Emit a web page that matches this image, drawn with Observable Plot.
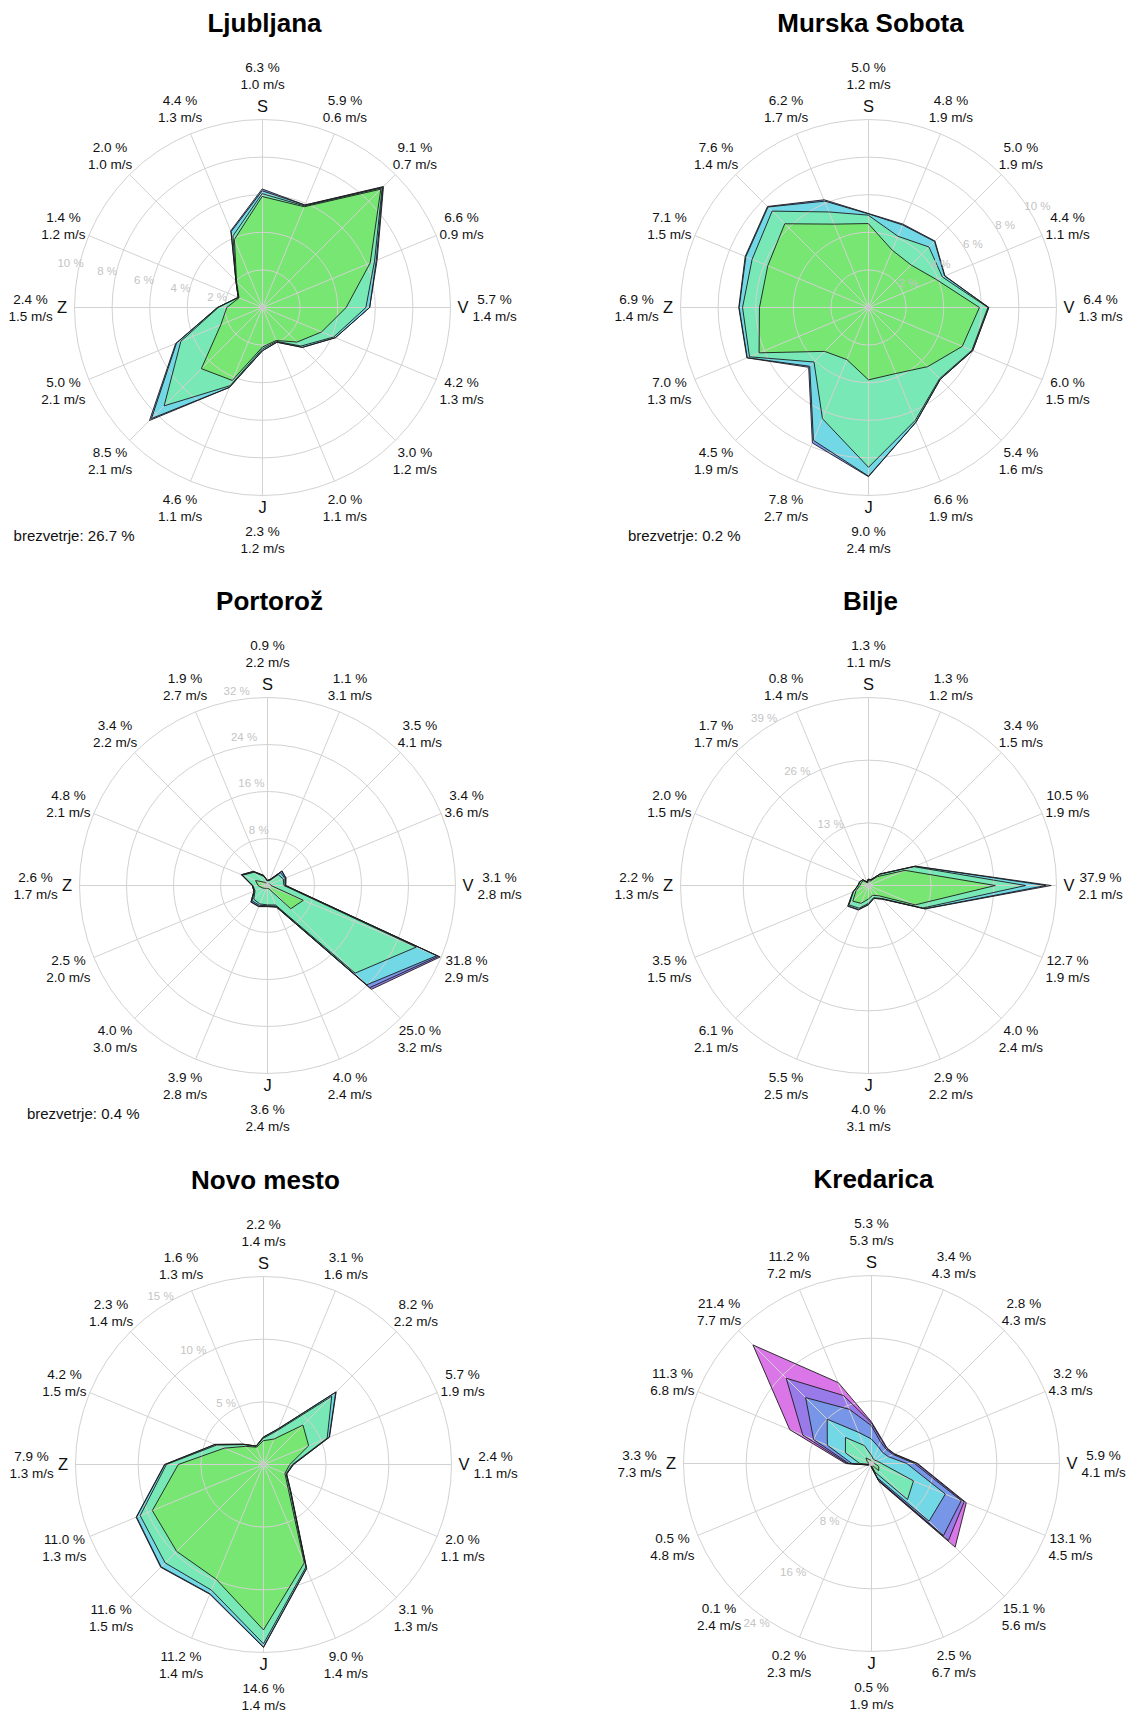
<!DOCTYPE html>
<html>
<head>
<meta charset="utf-8">
<script src="https://cdn.jsdelivr.net/npm/d3@7"></script>
<script src="https://cdn.jsdelivr.net/npm/@observablehq/plot@0.6"></script>
<style>
  html, body { margin: 0; padding: 0; background: #fff; }
  #wrap { position: relative; width: 1126px; height: 1713px; overflow: hidden; background: #fff;
          font-family: "Liberation Sans", Arial, Helvetica, sans-serif; }
  .panel { position: absolute; }
</style>
</head>
<body>
<div id="wrap"></div>
<script>
// ---------------- DATA (direction order: N, NNE, NE, ENE, E, ESE, SE, SSE, S, SSW, SW, WSW, W, WNW, NW, NNW) ----------------
const directions = ["S", "SSV", "SV", "VSV", "V", "VJV", "JV", "JJV", "J", "JJZ", "JZ", "ZJZ", "Z", "ZSZ", "SZ", "SSZ"];
const compassLetters = ["S", "V", "J", "Z"];

// Ljubljana
const lj_pct = [6.3, 5.9, 9.1, 6.6, 5.7, 4.2, 3.0, 2.0, 2.3, 4.6, 8.5, 5.0, 2.4, 1.4, 2.0, 4.4];
const lj_ms  = [1.0, 0.6, 0.7, 0.9, 1.4, 1.3, 1.2, 1.1, 1.2, 1.1, 2.1, 2.1, 1.5, 1.2, 1.0, 1.3];
const lj_layers = [ // cumulative % per speed class (inner to outer)
  [5.9, 5.8, 8.9, 6.2, 4.45, 3.4, 2.6, 1.9, 2.1, 4.2, 4.6, 2.4, 1.9, 1.35, 1.95, 3.9],
  [6.05, 5.85, 9.0, 6.45, 5.5, 4.1, 2.9, 1.95, 2.2, 4.5, 7.4, 4.7, 2.35, 1.4, 2.0, 4.1],
  [6.2, 5.9, 9.05, 6.55, 5.7, 4.2, 3.0, 2.0, 2.3, 4.6, 8.35, 4.95, 2.4, 1.4, 2.0, 4.35]
];
const lj_rings = [2, 4, 6, 8, 10];
const lj_calm = 26.7;

// Murska Sobota
const msb_pct = [5.0, 4.8, 5.0, 4.4, 6.4, 6.0, 5.4, 6.6, 9.0, 7.8, 4.5, 7.0, 6.9, 7.1, 7.6, 6.2];
const msb_ms  = [1.2, 1.9, 1.9, 1.1, 1.3, 1.5, 1.6, 1.9, 2.4, 2.7, 1.9, 1.3, 1.4, 1.5, 1.4, 1.7];
const msb_layers = [
  [4.45, 3.3, 3.2, 3.9, 5.9, 5.4, 4.45, 3.8, 3.85, 3.0, 3.3, 6.3, 5.8, 5.8, 6.3, 4.8],
  [4.9, 4.1, 4.55, 4.25, 6.35, 5.95, 5.35, 6.5, 8.5, 6.4, 4.1, 6.85, 6.7, 6.7, 7.25, 5.5],
  [4.98, 4.75, 4.97, 4.38, 6.4, 6.0, 5.4, 6.6, 8.97, 7.65, 4.42, 6.98, 6.88, 7.06, 7.56, 6.12]
];
const msb_rings = [2, 4, 6, 8, 10];
const msb_calm = 0.2;

// Portorož
const pt_pct = [0.9, 1.1, 3.5, 3.4, 3.1, 31.8, 25.0, 4.0, 3.6, 3.9, 4.0, 2.5, 2.6, 4.8, 3.4, 1.9];
const pt_ms  = [2.2, 3.1, 4.1, 3.6, 2.8, 2.9, 3.2, 2.4, 2.4, 2.8, 3.0, 2.0, 1.7, 2.1, 2.2, 2.7];
const pt_layers = [
  [0.3, 0.3, 0.4, 0.5, 0.6, 6.6, 5.6, 0.6, 0.5, 0.5, 0.7, 1.0, 1.6, 2.2, 0.8, 0.4],
  [0.8, 0.9, 2.6, 2.9, 2.8, 27.4, 21.1, 3.6, 3.3, 3.4, 3.3, 2.3, 2.5, 4.6, 3.2, 1.7],
  [0.85, 1.0, 3.1, 3.2, 3.0, 31.2, 23.9, 3.8, 3.45, 3.65, 3.7, 2.45, 2.55, 4.7, 3.3, 1.8],
  [0.9, 1.1, 3.45, 3.35, 3.1, 31.5, 24.6, 3.95, 3.55, 3.85, 3.95, 2.5, 2.6, 4.8, 3.4, 1.9]
];
const pt_rings = [8, 16, 24, 32];
const pt_calm = 0.4;

// Bilje
const bj_pct = [1.3, 1.3, 3.4, 10.5, 37.9, 12.7, 4.0, 2.9, 4.0, 5.5, 6.1, 3.5, 2.2, 2.0, 1.7, 0.8];
const bj_ms  = [1.1, 1.2, 1.5, 1.9, 2.1, 1.9, 2.4, 2.2, 3.1, 2.5, 2.1, 1.5, 1.3, 1.5, 1.7, 1.4];
const bj_layers = [
  [1.0, 1.0, 2.6, 8.2, 26.3, 10.5, 3.0, 2.2, 2.8, 4.0, 4.6, 2.8, 1.8, 1.6, 1.4, 0.6],
  [1.25, 1.25, 3.3, 10.2, 32.6, 12.2, 3.8, 2.75, 3.7, 5.1, 5.7, 3.4, 2.15, 1.95, 1.65, 0.78],
  [1.3, 1.3, 3.38, 10.45, 36.8, 12.6, 3.95, 2.88, 3.95, 5.4, 6.0, 3.48, 2.2, 2.0, 1.7, 0.8]
];
const bj_rings = [13, 26, 39];

// Novo mesto
const nm_pct = [2.2, 3.1, 8.2, 5.7, 2.4, 2.0, 3.1, 9.0, 14.6, 11.2, 11.6, 11.0, 7.9, 4.2, 2.3, 1.6];
const nm_ms  = [1.4, 1.6, 2.2, 1.9, 1.1, 1.1, 1.3, 1.4, 1.4, 1.4, 1.5, 1.3, 1.3, 1.5, 1.4, 1.3];
const nm_layers = [
  [1.9, 2.2, 4.45, 3.9, 2.1, 1.85, 2.8, 8.5, 13.2, 9.9, 9.8, 9.6, 6.8, 3.4, 2.05, 1.5],
  [2.1, 2.95, 7.7, 5.5, 2.3, 1.95, 3.0, 8.85, 14.3, 10.85, 11.1, 10.65, 7.75, 4.05, 2.25, 1.58],
  [2.18, 3.07, 8.15, 5.67, 2.38, 2.0, 3.08, 8.97, 14.56, 11.16, 11.55, 10.96, 7.87, 4.17, 2.28, 1.6]
];
const nm_rings = [5, 10, 15];

// Kredarica
const kr_pct = [5.3, 3.4, 2.8, 3.2, 5.9, 13.1, 15.1, 2.5, 0.5, 0.2, 0.1, 0.5, 3.3, 11.3, 21.4, 11.2];
const kr_ms  = [5.3, 4.3, 4.3, 4.3, 4.1, 4.5, 5.6, 6.7, 1.9, 2.3, 2.4, 4.8, 7.3, 6.8, 7.7, 7.2];
const kr_layers = [
  [0.3, 0.2, 0.2, 0.3, 0.4, 1.0, 1.3, 0.2, 0.1, 0.05, 0.05, 0.1, 0.3, 0.6, 1.0, 0.5],
  [1.0, 0.6, 0.6, 0.8, 1.3, 5.8, 6.5, 1.2, 0.25, 0.1, 0.07, 0.25, 1.5, 3.6, 4.7, 2.5],
  [3.1, 2.3, 2.0, 2.3, 4.5, 10.2, 10.4, 2.0, 0.4, 0.15, 0.08, 0.4, 2.5, 6.1, 8.0, 4.3],
  [4.8, 3.0, 2.6, 3.0, 5.5, 12.4, 13.0, 2.3, 0.45, 0.18, 0.09, 0.45, 2.9, 8.0, 11.9, 7.5],
  [5.15, 3.3, 2.75, 3.15, 5.8, 12.8, 13.9, 2.4, 0.48, 0.19, 0.1, 0.48, 3.1, 9.5, 15.4, 9.4]
];
const kr_rings = [8, 16, 24];

// ---------------- STYLE / LAYOUT ----------------
const FONT = '"Liberation Sans", Arial, Helvetica, sans-serif';
const R = 188;                 // outer ring radius, px
const W = 560, H = 565, CX = 280, CY = 300;   // svg size and centre inside it
const layerColors = ["#78e673", "#78e8b6", "#72d8e6", "#7896e8", "#987ae8", "#da76e8"];
const gridColor = "#d2d2d2";

const stations = [
  {name: "Ljubljana",     cx: 261.5, cy: 307,    max: 10, rings: lj_rings,  ringAngle: 283,   pct: lj_pct,  ms: lj_ms,  layers: lj_layers,  calm: lj_calm},
  {name: "Murska Sobota", cx: 868.2, cy: 307,    max: 10, rings: msb_rings, ringAngle: 59,    pct: msb_pct, ms: msb_ms, layers: msb_layers, calm: msb_calm},
  {name: "Portorož",      cx: 266.7, cy: 885,    max: 32, rings: pt_rings,  ringAngle: 351,   pct: pt_pct,  ms: pt_ms,  layers: pt_layers,  calm: pt_calm},
  {name: "Bilje",         cx: 868.3, cy: 885,    max: 39, rings: bj_rings,  ringAngle: 328,   pct: bj_pct,  ms: bj_ms,  layers: bj_layers},
  {name: "Novo mesto",    cx: 263.3, cy: 1464.3, max: 15, rings: nm_rings,  ringAngle: 328.5, pct: nm_pct,  ms: nm_ms,  layers: nm_layers},
  {name: "Kredarica",     cx: 871,   cy: 1463.3, max: 24, rings: kr_rings,  ringAngle: 215.7, pct: kr_pct,  ms: kr_ms,  layers: kr_layers}
];

const dirIndex = d3.range(directions.length);

function drawRose(st) {
  const k = st.max / R;                         // data units per pixel
  const ang = i => i * 2 * Math.PI / directions.length;
  const X = (r, i) => r * Math.sin(ang(i));
  const Y = (r, i) => r * Math.cos(ang(i));
  const all = [...st.layers, st.pct];           // cumulative, inner -> outer (outer = total)
  const fills = [], outlines = [];
  for (let j = all.length - 1; j >= 0; j--) {
    const v = all[j];
    fills.push(Plot.line(dirIndex, {x: i => X(v[i], i), y: i => Y(v[i], i), curve: "linear-closed",
      fill: layerColors[j], stroke: "none"}));
    outlines.push(Plot.line(dirIndex, {x: i => X(v[i], i), y: i => Y(v[i], i), curve: "linear-closed",
      fill: "none", stroke: "#1c1c1c", strokeWidth: 0.9, strokeLinejoin: "miter"}));
  }
  const isCard = i => i % 4 === 0;
  const labR = i => (isCard(i) ? 232 : 215.5) * k;
  const ra = st.ringAngle * Math.PI / 180;
  const marks = [
    ...fills,
    Plot.dot(st.rings, {x: () => 0, y: () => 0, r: d => d, fill: "none", stroke: gridColor, strokeWidth: 1}),
    Plot.link(dirIndex, {x1: () => 0, y1: () => 0, x2: i => X(st.max, i), y2: i => Y(st.max, i),
      stroke: gridColor, strokeWidth: 1}),
    ...outlines,
    Plot.dot([0], {x: () => 0, y: () => 0, r: 2.5, fill: "#c8c8c8", stroke: "none"}),
    Plot.text(st.rings, {x: d => (d + 9 * k) * Math.sin(ra), y: d => (d + 9 * k) * Math.cos(ra),
      text: d => `${d} %`, fontSize: 11.5, fill: "#c4c4c4", textAnchor: "middle", lineAnchor: "middle"}),
    Plot.text(dirIndex, {x: i => X(labR(i), i), y: i => Y(labR(i), i),
      text: i => `${st.pct[i].toFixed(1)} %\n${st.ms[i].toFixed(1)} m/s`,
      fontSize: 13.5, lineHeight: 1.26, fill: "#111", textAnchor: "middle", lineAnchor: "middle"}),
    Plot.text(dirIndex.filter(isCard), {x: i => X(200.5 * k, i), y: i => Y(200.5 * k, i),
      text: i => compassLetters[i / 4], fontSize: 16.5, fill: "#111", textAnchor: "middle", lineAnchor: "middle"}),
    Plot.text([st.name], {x: () => 2 * k, y: () => 284 * k, text: d => d, fontSize: 26, fontWeight: "bold",
      fill: "#000", textAnchor: "middle", lineAnchor: "middle"})
  ];
  if (st.calm !== undefined) {
    marks.push(Plot.text([st.calm], {x: () => -128 * k, y: () => -229 * k, text: d => `brezvetrje: ${d.toFixed(1)} %`,
      fontSize: 15, fill: "#111", textAnchor: "end", lineAnchor: "middle"}));
  }
  return Plot.plot({
    width: W, height: H, margin: 0,
    style: {background: "transparent", fontFamily: FONT, overflow: "visible", maxWidth: "none"},
    x: {domain: [-CX * k, (W - CX) * k], axis: null},
    y: {domain: [-(H - CY) * k, CY * k], axis: null},
    r: {type: "linear", domain: [0, st.max], range: [0, R]},
    marks
  });
}

const wrap = document.getElementById("wrap");
for (const st of stations) {
  const div = document.createElement("div");
  div.className = "panel";
  div.style.left = (st.cx - CX) + "px";
  div.style.top = (st.cy - CY) + "px";
  div.style.width = W + "px";
  div.style.height = H + "px";
  div.appendChild(drawRose(st));
  wrap.appendChild(div);
}
</script>
</body>
</html>
